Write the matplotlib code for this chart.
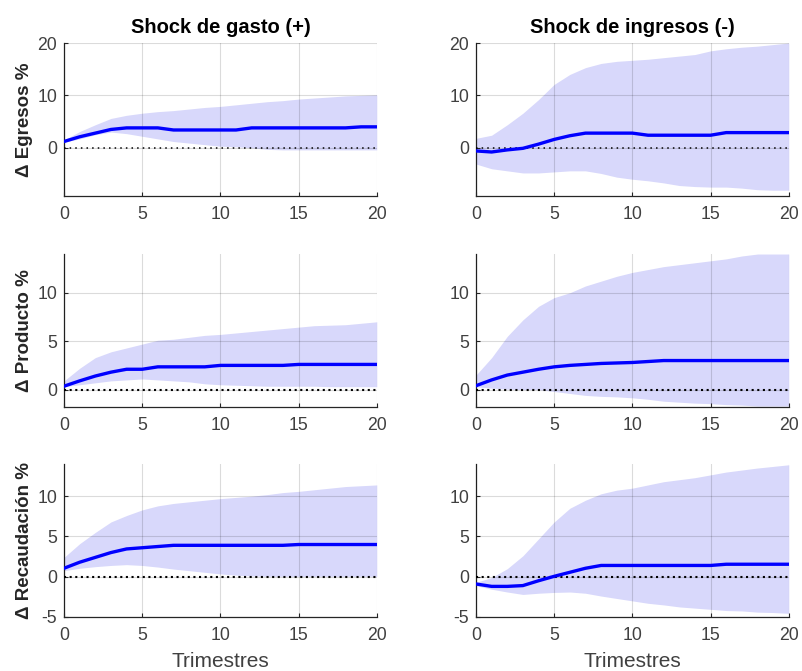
import matplotlib
matplotlib.use('Agg')
import matplotlib.pyplot as plt
import numpy as np

plt.rcParams['font.family'] = ['Liberation Sans', 'DejaVu Sans']
plt.rcParams['axes.unicode_minus'] = False

quarters = list(range(21))

# shock de gasto (+)
egr_gasto_med = [1.2, 2.1, 2.8, 3.5, 3.8, 3.8, 3.8, 3.4, 3.4, 3.4, 3.4, 3.4, 3.8, 3.8, 3.8, 3.8, 3.8, 3.8, 3.8, 4.0, 4.0]
egr_gasto_hi = [1.5, 3.1, 4.4, 5.6, 6.2, 6.6, 6.9, 7.1, 7.4, 7.7, 7.9, 8.2, 8.5, 8.8, 9.0, 9.3, 9.5, 9.7, 9.9, 10.0, 10.1]
egr_gasto_lo = [1.1, 1.7, 2.5, 3.0, 2.7, 2.2, 1.7, 1.2, 0.9, 0.6, 0.3, 0.2, 0.0, -0.3, -0.4, -0.4, -0.4, -0.4, -0.4, -0.4, -0.4]

prod_gasto_med = [0.35, 0.9, 1.4, 1.8, 2.1, 2.1, 2.35, 2.35, 2.35, 2.35, 2.5, 2.5, 2.5, 2.5, 2.5, 2.6, 2.6, 2.6, 2.6, 2.6, 2.6]
prod_gasto_hi = [0.9, 2.2, 3.3, 3.9, 4.3, 4.7, 5.1, 5.2, 5.4, 5.6, 5.7, 5.85, 6.0, 6.15, 6.3, 6.45, 6.6, 6.65, 6.7, 6.85, 7.0]
prod_gasto_lo = [0.3, 0.5, 0.7, 0.9, 1.0, 1.1, 1.0, 0.9, 0.8, 0.6, 0.5, 0.45, 0.4, 0.35, 0.35, 0.35, 0.35, 0.3, 0.3, 0.3, 0.3]

rec_gasto_med = [1.05, 1.8, 2.4, 3.0, 3.45, 3.6, 3.75, 3.9, 3.9, 3.9, 3.9, 3.9, 3.9, 3.9, 3.9, 4.0, 4.0, 4.0, 4.0, 4.0, 4.0]
rec_gasto_hi = [2.4, 4.1, 5.5, 6.8, 7.6, 8.3, 8.8, 9.1, 9.3, 9.5, 9.7, 9.85, 10.0, 10.2, 10.45, 10.6, 10.8, 11.0, 11.2, 11.3, 11.4]
rec_gasto_lo = [0.75, 1.05, 1.25, 1.4, 1.5, 1.4, 1.2, 0.95, 0.75, 0.55, 0.35, 0.2, 0.1, 0.05, 0.05, 0.05, 0.05, 0.05, 0.05, 0.05, 0.05]

# shock de ingresos (-)
egr_ingr_med = [-0.6, -0.8, -0.4, -0.1, 0.7, 1.6, 2.3, 2.8, 2.8, 2.8, 2.8, 2.4, 2.4, 2.4, 2.4, 2.4, 2.9, 2.9, 2.9, 2.9, 2.9]
egr_ingr_hi = [1.8, 2.4, 4.4, 6.6, 9.2, 12.1, 14.0, 15.3, 16.1, 16.5, 16.7, 16.9, 17.2, 17.5, 17.8, 18.5, 18.9, 19.2, 19.4, 19.7, 20.0]
egr_ingr_lo = [-3.1, -4.0, -4.4, -4.8, -4.8, -4.6, -4.4, -4.4, -4.9, -5.6, -6.0, -6.3, -6.7, -7.2, -7.4, -7.5, -7.5, -7.7, -8.0, -8.1, -8.1]

prod_ingr_med = [0.4, 1.0, 1.5, 1.8, 2.1, 2.35, 2.5, 2.6, 2.7, 2.75, 2.8, 2.9, 3.0, 3.0, 3.0, 3.0, 3.0, 3.0, 3.0, 3.0, 3.0]
prod_ingr_hi = [1.5, 3.3, 5.5, 7.2, 8.6, 9.5, 10.0, 10.7, 11.2, 11.7, 12.1, 12.4, 12.7, 12.9, 13.1, 13.3, 13.5, 13.8, 14.0, 14.0, 14.0]
prod_ingr_lo = [0.3, 0.15, 0.05, 0.0, 0.0, -0.2, -0.4, -0.6, -0.7, -0.75, -0.85, -1.0, -1.2, -1.3, -1.4, -1.45, -1.55, -1.6, -1.7, -1.7, -1.7]

rec_ingr_med = [-0.9, -1.2, -1.2, -1.1, -0.5, 0.05, 0.55, 1.05, 1.4, 1.4, 1.4, 1.4, 1.4, 1.4, 1.4, 1.4, 1.55, 1.55, 1.55, 1.55, 1.55]
rec_ingr_hi = [-0.7, -0.1, 1.0, 2.6, 4.7, 6.8, 8.5, 9.5, 10.3, 10.75, 11.0, 11.4, 11.8, 12.05, 12.3, 12.65, 13.0, 13.25, 13.5, 13.7, 13.9]
rec_ingr_lo = [-1.1, -1.55, -1.9, -2.2, -2.05, -1.95, -1.9, -2.05, -2.4, -2.7, -3.0, -3.3, -3.5, -3.75, -3.9, -4.05, -4.2, -4.25, -4.4, -4.45, -4.55]

col_titles = ['Shock de gasto (+)', 'Shock de ingresos (-)']
row_labels = ['\u0394 Egresos %', '\u0394 Producto %', '\u0394 Recaudaci\u00f3n %']
row_ylims = [(-9.2, 20), (-1.8, 14), (-5, 14)]
row_yticks = [[0, 10, 20], [0, 5, 10], [-5, 0, 5, 10]]
# the top row has a larger y range, so its zero line is drawn finer
zero_lw = [1.1, 1.5, 1.5]

panels = [
    [(egr_gasto_med, egr_gasto_lo, egr_gasto_hi), (egr_ingr_med, egr_ingr_lo, egr_ingr_hi)],
    [(prod_gasto_med, prod_gasto_lo, prod_gasto_hi), (prod_ingr_med, prod_ingr_lo, prod_ingr_hi)],
    [(rec_gasto_med, rec_gasto_lo, rec_gasto_hi), (rec_ingr_med, rec_ingr_lo, rec_ingr_hi)],
]

fig = plt.figure(figsize=(8.02, 6.71), dpi=100)
lefts = [0.0798, 0.5935]
bottoms = [0.7079, 0.3934, 0.0805]
w, h = 0.390, 0.228

tick_color = '#404040'
for r in range(3):
    for c in range(2):
        ax = fig.add_axes([lefts[c], bottoms[r], w, h])
        med, lo, hi = panels[r][c]
        ax.fill_between(quarters, lo, hi, color='#d8d8fb', linewidth=0, zorder=1)
        ax.plot(quarters, med, color='#0000ff', linewidth=2.4, zorder=3)
        lw = zero_lw[r]
        ax.axhline(0, color='black', linestyle=(0, (1, 4.05 / lw - 1)), linewidth=lw, zorder=2.6)
        ax.set_xlim(0, 20)
        ax.set_ylim(*row_ylims[r])
        ax.set_xticks([0, 5, 10, 15, 20])
        ax.set_yticks(row_yticks[r])
        # grid sits over the band but under the response line
        ax.set_axisbelow(False)
        ax.grid(True, color='black', alpha=0.14, linewidth=0.8)
        for s in ['top', 'right']:
            ax.spines[s].set_visible(False)
        for s in ['left', 'bottom']:
            ax.spines[s].set_color('#262626')
            ax.spines[s].set_linewidth(0.9)
        ax.tick_params(direction='in', length=3, width=0.8, colors='#262626',
                       labelcolor=tick_color, labelsize=12.7)
        ax.tick_params(axis='x', pad=7)
        ax.tick_params(axis='y', pad=5)
        if r == 0:
            ax.set_title(col_titles[c], fontsize=14.5, fontweight='bold', pad=7)
        if c == 0:
            ax.set_ylabel(row_labels[r], fontsize=13.5, fontweight='bold', color='#262626', labelpad=3)
        if r == 2:
            ax.set_xlabel('Trimestres', fontsize=15, color=tick_color, labelpad=6)

fig.savefig('out.png', dpi=100)
